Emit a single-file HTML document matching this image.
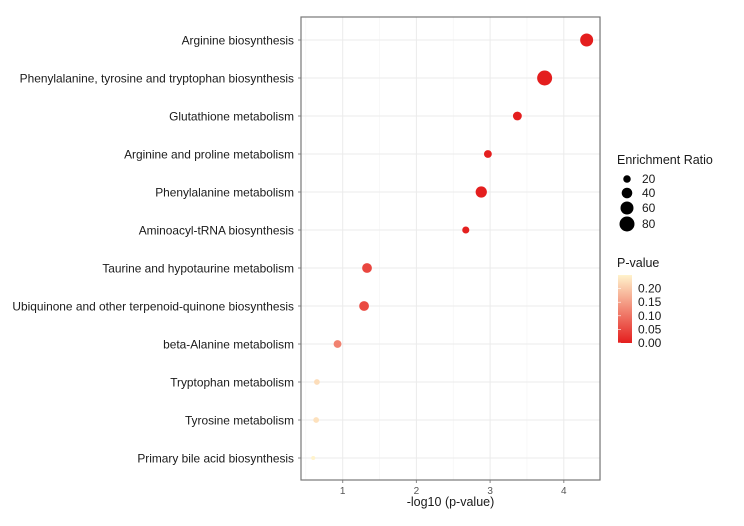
<!DOCTYPE html>
<html><head><meta charset="utf-8"><style>
body{margin:0;background:#fff;}
svg text{font-family:"Liberation Sans","DejaVu Sans",sans-serif;}
</style></head><body>
<svg id="chart" width="744" height="521" viewBox="0 0 744 521" xmlns="http://www.w3.org/2000/svg"></svg>
<script>
const categories=["Arginine biosynthesis","Phenylalanine, tyrosine and tryptophan biosynthesis","Glutathione metabolism","Arginine and proline metabolism","Phenylalanine metabolism","Aminoacyl-tRNA biosynthesis","Taurine and hypotaurine metabolism","Ubiquinone and other terpenoid-quinone biosynthesis","beta-Alanine metabolism","Tryptophan metabolism","Tyrosine metabolism","Primary bile acid biosynthesis"];
const logP=[4.31,3.74,3.37,2.97,2.88,2.67,1.33,1.29,0.93,0.65,0.64,0.60];
const enrichment=[60,80,28,22,45,18,34,34,22,12,12,6];
const xTicks=[1,2,3,4];
const sizeLegend=[20,40,60,80];
const pTicks=[0.20,0.15,0.10,0.05,0.00];

const NS="http://www.w3.org/2000/svg";
const svg=document.getElementById('chart');
const L=301,R=600,T=17,B=480;
const x=v=>269+(v)*73.7;
const y=i=>40+i*38;
const r=e=>7.5*Math.sqrt(e/80);
const pMax=0.25;
function col(p){const t=Math.min(1,p/pMax);
 const a=[228,30,30],b=[255,243,204];
 return `rgb(${a.map((c,k)=>Math.round(c+(b[k]-c)*t)).join(',')})`;}
function mk(tag,at,parent){const e=document.createElementNS(NS,tag);for(const k in at)e.setAttribute(k,at[k]);(parent||svg).appendChild(e);return e;}

const panel=mk('rect',{x:L,y:T,width:R-L,height:B-T,fill:'#fff'});


for(let v=0.5;v<=4.5;v+=1){const g=mk('line',{x1:x(v),x2:x(v),y1:T,y2:B,stroke:'#f4f4f4','stroke-width':0.6});

}
xTicks.forEach(v=>{const g=mk('line',{x1:x(v),x2:x(v),y1:T,y2:B,stroke:'#ebebeb','stroke-width':1});


const tk=mk('line',{x1:x(v),x2:x(v),y1:B,y2:B+3,stroke:'#888'});


const t=mk('text',{x:x(v),y:B+14,'text-anchor':'middle','font-size':10,fill:'#555'});t.textContent=v;

});
categories.forEach((c,i)=>{const g=mk('line',{x1:L,x2:R,y1:y(i),y2:y(i),stroke:'#ebebeb'});


const tk=mk('line',{x1:L-3,x2:L,y1:y(i),y2:y(i),stroke:'#888'});


const t=mk('text',{x:L-7,y:y(i)+4.5,'text-anchor':'end','font-size':11.9,fill:'#1a1a1a'});t.textContent=c;

});
categories.forEach((c,i)=>{const p=Math.pow(10,-logP[i]);
const d=mk('circle',{cx:x(logP[i]),cy:y(i),r:r(enrichment[i]),fill:col(p)});

});
const bd=mk('rect',{x:L,y:T,width:R-L,height:B-T,fill:'none',stroke:'#777','stroke-width':1.2});


const xt=mk('text',{x:(L+R)/2,y:506,'text-anchor':'middle','font-size':12.5,fill:'#1a1a1a'});xt.textContent='-log10 (p-value)';



const st=mk('text',{x:617,y:164,'font-size':12.5,fill:'#1a1a1a'});st.textContent='Enrichment Ratio';


const ly=[179,193,208,224];
sizeLegend.forEach((s,k)=>{const c=mk('circle',{cx:627,cy:ly[k],r:r(s),fill:'#000'});


const t=mk('text',{x:642,y:ly[k]+4,'font-size':12,fill:'#1a1a1a'});t.textContent=s;

});
const pt=mk('text',{x:617,y:267,'font-size':12.5,fill:'#1a1a1a'});pt.textContent='P-value';


const defs=mk('defs',{});const lg=mk('linearGradient',{id:'pg',x1:0,y1:1,x2:0,y2:0},defs);
mk('stop',{offset:0,'stop-color':col(0)},lg);mk('stop',{offset:1,'stop-color':col(pMax)},lg);
const cb=mk('rect',{x:618,y:275,width:14,height:68,fill:'url(#pg)'});


const cy=p=>343-p/pMax*68;
pTicks.forEach(p=>{const t=mk('text',{x:638,y:cy(p)+4,'font-size':12,fill:'#1a1a1a'});t.textContent=p.toFixed(2);


const tk=mk('line',{x1:618,x2:621,y1:cy(p),y2:cy(p),stroke:'#fff','stroke-width':0.6});

});
</script>
</body></html>
